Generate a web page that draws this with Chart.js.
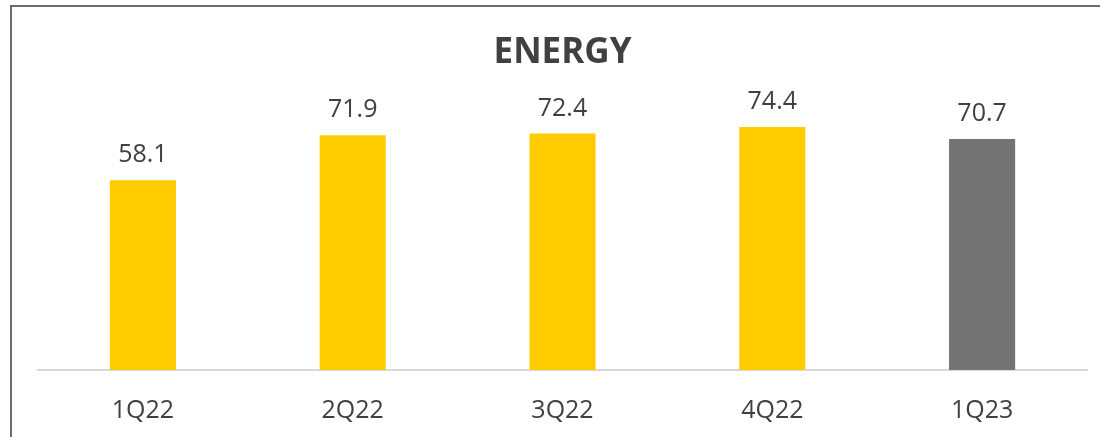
<!DOCTYPE html>
<html>
<head>
<meta charset="utf-8">
<script src="https://cdn.jsdelivr.net/npm/chart.js@4.4.1/dist/chart.umd.min.js"></script>
<style>
  html, body { margin: 0; padding: 0; background: #fff; }
  #wrap { position: relative; width: 1100px; height: 437px; }
  #frame { position: absolute; left: 10px; top: 5px; right: 0; bottom: 0;
           border-top: 2px solid #6b6b6b; border-left: 2px solid #6b6b6b; pointer-events: none; }
  canvas { position: absolute; left: 0; top: 0; }
</style>
</head>
<body>
<div id="wrap">
  <canvas id="energyChart" width="1100" height="437"></canvas>
  <div id="frame"></div>
</div>
<script>
const quarters = ['1Q22', '2Q22', '3Q22', '4Q22', '1Q23'];
const energy = [58.1, 71.9, 72.4, 74.4, 70.7];
const barColors = ['#FFCC00', '#FFCC00', '#FFCC00', '#FFCC00', '#737373'];

// value labels above each bar
const valueLabels = {
  id: 'valueLabels',
  afterDatasetsDraw(chart) {
    const ctx = chart.ctx;
    const meta = chart.getDatasetMeta(0);
    ctx.save();
    ctx.font = '25px "Open Sans"';
    ctx.fillStyle = '#404040';
    ctx.textAlign = 'center';
    ctx.textBaseline = 'middle';
    meta.data.forEach((bar, i) => {
      ctx.fillText(energy[i].toFixed(1), bar.x, bar.y - 25);
    });
    ctx.restore();
  }
};

new Chart(document.getElementById('energyChart').getContext('2d'), {
  type: 'bar',
  data: {
    labels: quarters,
    datasets: [{
      data: energy,
      backgroundColor: barColors,
      borderWidth: 0,
      categoryPercentage: 1,
      barPercentage: 0.315
    }]
  },
  options: {
    responsive: false,
    animation: false,
    layout: { padding: { left: 38, right: 13, top: 0, bottom: 0 } },
    plugins: {
      legend: { display: false },
      tooltip: { enabled: false },
      title: {
        display: true,
        text: 'ENERGY',
        color: '#404040',
        font: { family: 'Open Sans', size: 35, weight: 'bold', lineHeight: 1.2 },
        padding: { top: 32, bottom: 2 }
      }
    },
    scales: {
      x: {
        grid: { display: false },
        border: { display: true, color: '#d9d9d9', width: 2 },
        ticks: { color: '#404040', font: { family: 'Open Sans', size: 25 }, padding: 18 },
        afterFit(scale) { scale.height = 67; }
      },
      y: {
        display: false,
        min: 0,
        max: 90
      }
    }
  },
  plugins: [valueLabels]
});
</script>
</body>
</html>
